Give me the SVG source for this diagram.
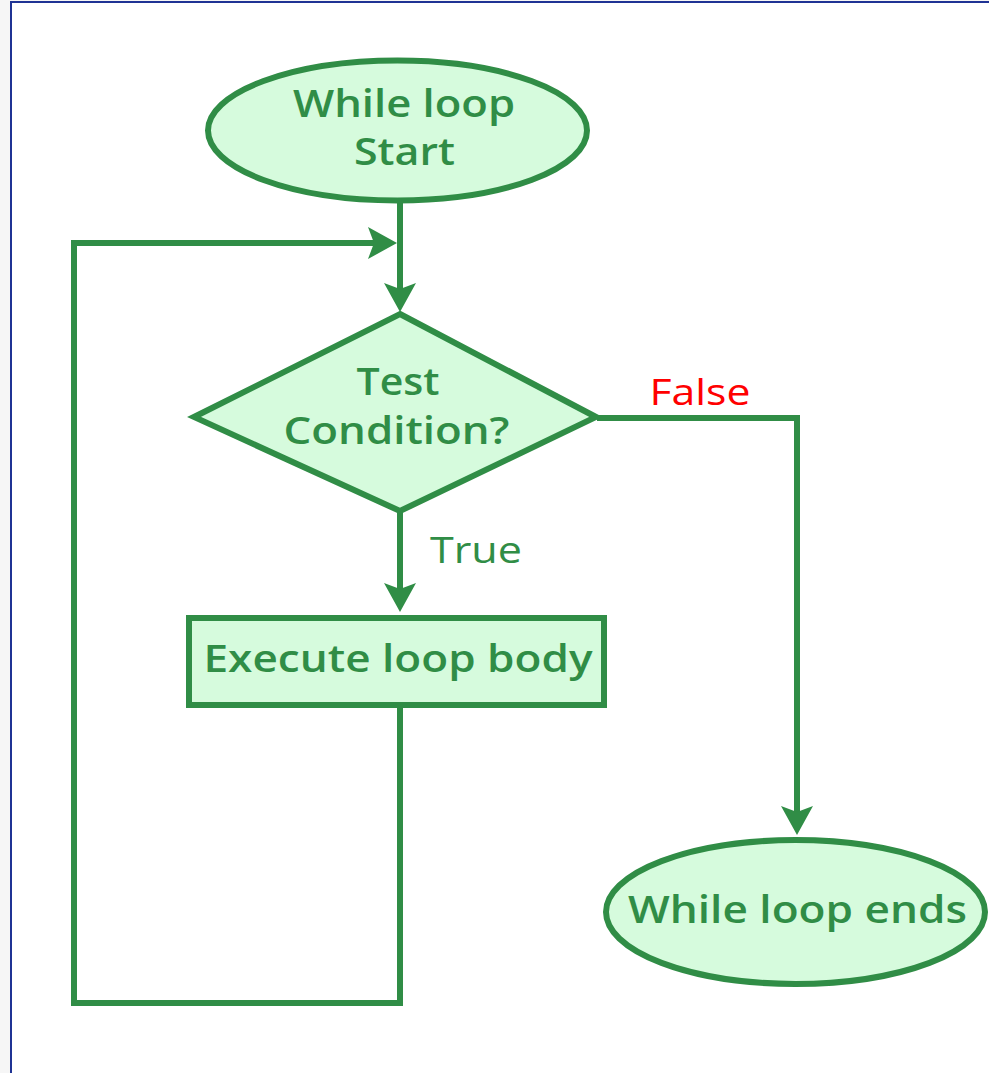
<svg xmlns="http://www.w3.org/2000/svg" width="989" height="1073" viewBox="0 0 989 1073">
<style>
.shape{fill:#d6fbdd;stroke:#308d46;stroke-width:6}
.conn{fill:none;stroke:#308d46;stroke-width:6}
.lbl{font-family:"Open Sans","Liberation Sans",sans-serif;font-weight:600;font-size:37px;fill:#308d46;text-anchor:middle}
.edge{font-family:"Open Sans","Liberation Sans",sans-serif;font-weight:400;font-size:37px;text-anchor:middle}
</style>
<defs>
<marker id="arr" markerUnits="userSpaceOnUse" markerWidth="30" markerHeight="34" viewBox="0 0 30 34" refX="20" refY="17" orient="auto">
<path d="M0,1 L29,17 L0,33 L6,17 Z" fill="#308d46"/>
</marker>
</defs>
<rect x="0" y="0" width="989" height="1073" fill="#f6f6f6"/>
<rect x="11" y="2" width="1000" height="1100" fill="#ffffff" stroke="#1f3394" stroke-width="2"/>
<g id="connectors">
<path class="conn" d="M400,203 L400,303" marker-end="url(#arr)"/>
<path class="conn" d="M400,708 L400,1003 L74,1003 L74,243 L388,243" marker-end="url(#arr)"/>
<path class="conn" d="M400,512 L400,603" marker-end="url(#arr)"/>
<path class="conn" d="M597,418 L797,418 L797,826" marker-end="url(#arr)"/>
</g>
<g id="start">
<ellipse class="shape" cx="397.5" cy="130.5" rx="189.5" ry="70"/>
<text class="lbl" x="404" y="117" textLength="222" lengthAdjust="spacingAndGlyphs">While loop</text>
<text class="lbl" x="404.5" y="165" textLength="101" lengthAdjust="spacingAndGlyphs">Start</text>
</g>
<g id="condition">
<polygon class="shape" points="400,314 596,417 400,511 194,417"/>
<text class="lbl" x="398" y="395" textLength="83" lengthAdjust="spacingAndGlyphs">Test</text>
<text class="lbl" x="396.5" y="444" textLength="226" lengthAdjust="spacingAndGlyphs">Condition?</text>
</g>
<g id="body">
<rect class="shape" x="189" y="618" width="415" height="87"/>
<text class="lbl" x="398" y="672" textLength="389" lengthAdjust="spacingAndGlyphs">Execute loop body</text>
</g>
<g id="end">
<ellipse class="shape" cx="795.5" cy="912" rx="189.5" ry="72"/>
<text class="lbl" x="797.5" y="923" textLength="339" lengthAdjust="spacingAndGlyphs">While loop ends</text>
</g>
<g id="labels">
<text class="edge" x="476" y="563" fill="#308d46" textLength="92" lengthAdjust="spacingAndGlyphs">True</text>
<text class="edge" x="700" y="405" fill="#ff0000" textLength="101" lengthAdjust="spacingAndGlyphs">False</text>
</g>
</svg>
